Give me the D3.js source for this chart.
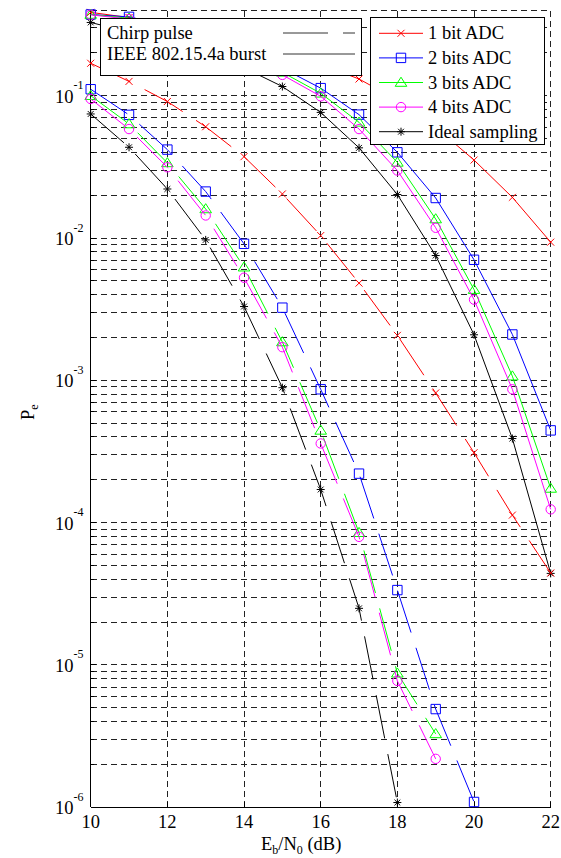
<!DOCTYPE html>
<html>
<head>
<meta charset="utf-8">
<script src="https://cdn.jsdelivr.net/npm/d3@7"></script>
<style>
body { margin: 0; background: #fff; }
svg { display: block; font-family: "Liberation Serif", "Times New Roman", serif; }
</style>
</head>
<body>
<div id="chart"></div>
<script>
const ebn0 = [10, 11, 12, 13, 14, 15, 16, 17, 18, 19, 20, 21, 22];

// chirp pulse (dashed)
const chirp1bit = [0.169, 0.126, 0.091, 0.0605, 0.0373, 0.0204, 0.0104, 0.00482, 0.00207, 8.15e-4, 3.1e-4, 1.13e-4, 4.43e-5];
const chirp2bit = [0.111, 0.0733, 0.0418, 0.0212, 0.0091, 0.00324, 8.65e-4, 2.21e-4, 3.36e-5, 4.9e-6, 1.09e-6, null, null];
const chirp3bit = [0.1, 0.0633, 0.0337, 0.016, 0.00624, 0.00186, 4.45e-4, 8.5e-5, 8.75e-6, 3.28e-6, null, null, null];
const chirp4bit = [0.0948, 0.0583, 0.0314, 0.0144, 0.00526, 0.00171, 3.6e-4, 7.95e-5, 7.73e-6, 2.19e-6, null, null, null];
const chirpIdeal = [0.0744, 0.0434, 0.0221, 0.0097, 0.0033, 8.88e-4, 1.71e-4, 2.5e-5, 1.08e-6, null, null, null, null];

// IEEE 802.15.4a burst (solid)
const ieee1bit = [0.385, 0.354, 0.319, 0.281, 0.242, 0.204, 0.166, 0.131, 0.093, 0.06, 0.0353, 0.0193, 0.00935];
const ieee2bit = [0.372, 0.358, 0.312, 0.259, 0.206, 0.156, 0.113, 0.0736, 0.04, 0.0191, 0.00703, 0.0021, 4.45e-4];
const ieee3bit = [0.372, 0.35, 0.301, 0.248, 0.195, 0.146, 0.104, 0.065, 0.034, 0.0136, 0.00434, 0.00107, 1.74e-4];
const ieee4bit = [0.37, 0.345, 0.296, 0.242, 0.188, 0.14, 0.099, 0.0583, 0.0298, 0.0118, 0.00369, 8.65e-4, 1.24e-4];
const ieeeIdeal = [0.327, 0.28, 0.234, 0.195, 0.157, 0.116, 0.0763, 0.043, 0.0202, 0.00753, 0.00209, 3.9e-4, 4.4e-5];

const seriesNames = ["1 bit ADC", "2 bits ADC", "3 bits ADC", "4 bits ADC", "Ideal sampling"];
const pulseNames = ["Chirp pulse", "IEEE 802.15.4a burst"];
const xTicks = [10, 12, 14, 16, 18, 20, 22];
const yDecades = [1e-6, 1e-5, 1e-4, 1e-3, 1e-2, 1e-1];
const yExponents = ["-6", "-5", "-4", "-3", "-2", "-1"];

const colors = ["#ff0000", "#0000ff", "#00ff00", "#ff00ff", "#000000"];
const markers = ["x", "square", "triangle", "circle", "star"];

const chirpSeries = [chirp1bit, chirp2bit, chirp3bit, chirp4bit, chirpIdeal];
const ieeeSeries = [ieee1bit, ieee2bit, ieee3bit, ieee4bit, ieeeIdeal];

const W = 561, H = 858;
const plot = { left: 90.7, right: 550.7, top: 10, bottom: 807.3 };

const svg = d3.select("#chart")
    .append("svg")
    .attr("width", W)
    .attr("height", H)
    .attr("viewBox", `0 0 ${W} ${H}`);

const x = d3.scaleLinear().domain([10, 22]).range([plot.left, plot.right]);
const y = d3.scaleLog().domain([1e-6, 0.4]).range([plot.bottom, plot.top]);

// grid
const grid = svg.append("g")
    .attr("stroke", "#222")
    .attr("stroke-width", 1)
    .attr("stroke-dasharray", "6,4")
    .attr("shape-rendering", "crispEdges");

const yGrid = y.ticks().filter(v => v > 1e-6 * 1.001).concat([0.4]);
yGrid.forEach(v => {
    grid.append("line")
        .attr("x1", plot.left).attr("x2", plot.right)
        .attr("y1", y(v)).attr("y2", y(v));
});
xTicks.filter(v => v > 10).forEach(v => {
    grid.append("line")
        .attr("x1", x(v)).attr("x2", x(v))
        .attr("y1", plot.bottom).attr("y2", plot.top);
});

// axes
const axes = svg.append("g")
    .attr("stroke", "#000")
    .attr("stroke-width", 1)
    .attr("shape-rendering", "crispEdges");
axes.append("line")
    .attr("x1", plot.left).attr("x2", plot.left)
    .attr("y1", plot.top).attr("y2", plot.bottom);
axes.append("line")
    .attr("x1", plot.left).attr("x2", plot.right)
    .attr("y1", plot.bottom).attr("y2", plot.bottom);
y.ticks().forEach(v => {
    const major = yDecades.some(d => Math.abs(d - v) / d < 1e-6);
    axes.append("line")
        .attr("x1", plot.left).attr("x2", plot.left + (major ? 5 : 3))
        .attr("y1", y(v)).attr("y2", y(v));
});
xTicks.forEach(v => {
    axes.append("line")
        .attr("x1", x(v)).attr("x2", x(v))
        .attr("y1", plot.bottom).attr("y2", plot.bottom - 5);
});

// tick labels
const labels = svg.append("g").attr("fill", "#000");
xTicks.forEach(v => {
    labels.append("text")
        .attr("x", x(v))
        .attr("y", plot.bottom + 21)
        .attr("text-anchor", "middle")
        .attr("font-size", 18.5)
        .text(v);
});
yDecades.forEach((v, i) => {
    const t = labels.append("text")
        .attr("x", 55)
        .attr("y", y(v) + 7)
        .attr("font-size", 18.5);
    t.append("tspan").text("10");
    t.append("tspan")
        .attr("font-size", 12)
        .attr("dy", -13.5)
        .text(yExponents[i]);
});

// axis titles
const xt = labels.append("text")
    .attr("x", 261)
    .attr("y", 850)
    .attr("font-size", 18.5);
xt.append("tspan").text("E");
xt.append("tspan").attr("font-size", 12).attr("dy", 4).text("b");
xt.append("tspan").attr("dy", -4).text("/N");
xt.append("tspan").attr("font-size", 12).attr("dy", 4).text("0");
xt.append("tspan").attr("dy", -4).text(" (dB)");

const yt = labels.append("text")
    .attr("transform", "translate(34,420) rotate(-90)")
    .attr("font-size", 18.5);
yt.append("tspan").text("P");
yt.append("tspan").attr("font-size", 12).attr("dy", 4).text("e");

// markers
const markerPath = (type) => {
    if (type === "x") return "M-3.5,-3.5L3.5,3.5M-3.5,3.5L3.5,-3.5";
    if (type === "square") return "M-4.7,-4.7H4.7V4.7H-4.7Z";
    if (type === "triangle") return "M0,-5.3L5.8,3.8L-5.8,3.8Z";
    if (type === "circle") return "M4.7,0A4.7,4.7 0 1,1 -4.7,0A4.7,4.7 0 1,1 4.7,0Z";
    return "M-4,0H4M0,-4V4M-2.9,-2.9L2.9,2.9M-2.9,2.9L2.9,-2.9";
};

const line = d3.line()
    .defined(d => d[1] != null)
    .x(d => x(d[0]))
    .y(d => y(d[1]));

const drawSeries = (values, i, dashed) => {
    const pts = ebn0.map((e, k) => [e, values[k]]);
    const g = svg.append("g");
    g.append("path")
        .attr("d", line(pts))
        .attr("fill", "none")
        .attr("stroke", colors[i])
        .attr("stroke-width", 1)
        .attr("stroke-dasharray", dashed ? "44,16" : null);
    g.selectAll(".m")
        .data(pts.filter(d => d[1] != null))
        .enter()
        .append("path")
        .attr("transform", d => `translate(${x(d[0])},${y(d[1])})`)
        .attr("d", markerPath(markers[i]))
        .attr("fill", "none")
        .attr("stroke", colors[i])
        .attr("stroke-width", 1);
};

ieeeSeries.forEach((s, i) => drawSeries(s, i, false));
chirpSeries.forEach((s, i) => drawSeries(s, i, true));

// legend: pulse type
const leg1 = svg.append("g");
leg1.append("rect")
    .attr("x", 100.5).attr("y", 18.5)
    .attr("width", 261).attr("height", 57)
    .attr("fill", "#fff").attr("stroke", "#000");
pulseNames.forEach((name, i) => {
    const yy = 33 + i * 21;
    leg1.append("text")
        .attr("x", 107).attr("y", yy + 6)
        .attr("font-size", 18.5)
        .text(name);
    leg1.append("line")
        .attr("x1", 283).attr("x2", 355)
        .attr("y1", yy).attr("y2", yy)
        .attr("stroke", "#333")
        .attr("stroke-dasharray", i === 0 ? "45,15" : null);
});

// legend: sampling
const leg2 = svg.append("g");
leg2.append("rect")
    .attr("x", 370.5).attr("y", 17.5)
    .attr("width", 174).attr("height", 127)
    .attr("fill", "#fff").attr("stroke", "#000");
seriesNames.forEach((name, i) => {
    const yy = 33.3 + i * 24.6;
    leg2.append("line")
        .attr("x1", 379).attr("x2", 423)
        .attr("y1", yy).attr("y2", yy)
        .attr("stroke", colors[i]);
    leg2.append("path")
        .attr("transform", `translate(401,${yy})`)
        .attr("d", markerPath(markers[i]))
        .attr("fill", "none")
        .attr("stroke", colors[i]);
    leg2.append("text")
        .attr("x", 428).attr("y", yy + 6)
        .attr("font-size", 18.5)
        .text(name);
});
</script>
</body>
</html>
